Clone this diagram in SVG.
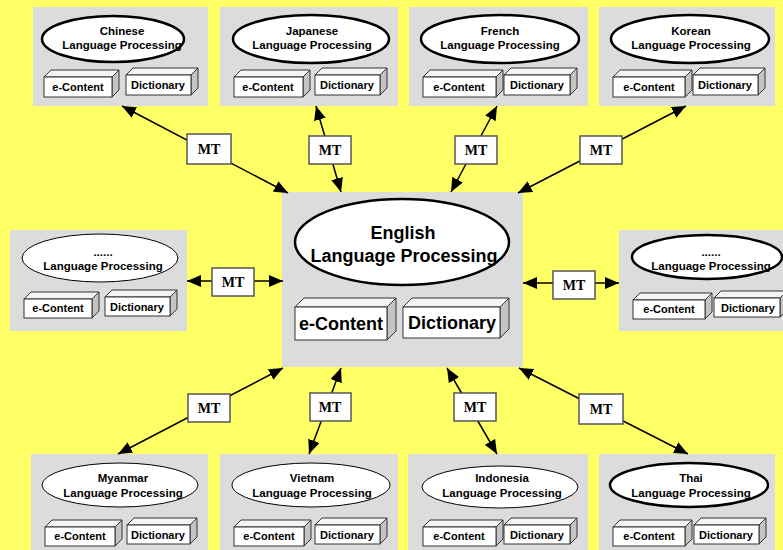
<svg xmlns="http://www.w3.org/2000/svg" width="783" height="550" viewBox="0 0 783 550">
<defs>
<style>
.bg{fill:#ffff66}
.panel{fill:#dcdcdc}
.ell{fill:#fff;stroke:#000;stroke-width:2.5}
.ellt{fill:#fff;stroke:#000;stroke-width:1}
.lbl{font-family:"Liberation Sans",Arial,sans-serif;font-weight:bold;font-size:11.5px;text-anchor:middle;fill:#000}
.bx{font-family:"Liberation Sans",Arial,sans-serif;font-weight:bold;font-size:11px;text-anchor:middle;fill:#000}
.big{font-family:"Liberation Sans",Arial,sans-serif;font-weight:bold;font-size:18px;text-anchor:middle;fill:#000}
.front{fill:#fff;stroke:#333;stroke-width:1}
.top{fill:#f4f4f4;stroke:#333;stroke-width:1;stroke-linejoin:round}
.side{fill:#c4c4c4;stroke:#333;stroke-width:1;stroke-linejoin:round}
.mtbox{fill:#fff;stroke:#555;stroke-width:1.5}
.mt{font-family:"Liberation Serif","Times New Roman",serif;font-weight:bold;font-size:14px;text-anchor:middle;fill:#000}
.conn{stroke:#000;stroke-width:1.5;fill:none;marker-start:url(#ah);marker-end:url(#ah)}
</style>
<marker id="ah" viewBox="0 0 14 12" refX="14" refY="6" markerWidth="14" markerHeight="12" markerUnits="userSpaceOnUse" orient="auto-start-reverse">
<path d="M0,0 L14,6 L0,12 z" fill="#000"/>
</marker>
</defs>
<rect class="bg" x="0" y="0" width="783" height="550"/>

<!-- Chinese -->
<g id="chinese">
<rect class="panel" x="33" y="7" width="175" height="99"/>
<ellipse class="ell" cx="113" cy="39" rx="71" ry="23"/>
<text class="lbl" x="122" y="35">Chinese</text>
<text class="lbl" x="122" y="49">Language Processing</text>
<polygon class="top" points="44,77 51,70 119,70 112,77"/><polygon class="side" points="112,77 119,70 119,90 112,97"/><rect class="front" x="44" y="77" width="68" height="20"/>
<text class="bx" x="78" y="91">e-Content</text>
<polygon class="top" points="126,75 133,68 198,68 191,75"/><polygon class="side" points="191,75 198,68 198,88 191,95"/><rect class="front" x="126" y="75" width="65" height="20"/>
<text class="bx" x="158" y="89">Dictionary</text>
</g>

<!-- Japanese -->
<g id="japanese">
<rect class="panel" x="220" y="7" width="178" height="99"/>
<ellipse class="ell" cx="311" cy="39" rx="78" ry="24"/>
<text class="lbl" x="312" y="35">Japanese</text>
<text class="lbl" x="312" y="49">Language Processing</text>
<polygon class="top" points="234,77 241,70 310,70 303,77"/><polygon class="side" points="303,77 310,70 310,90 303,97"/><rect class="front" x="234" y="77" width="69" height="20"/>
<text class="bx" x="268" y="91">e-Content</text>
<polygon class="top" points="315,75 322,68 387,68 380,75"/><polygon class="side" points="380,75 387,68 387,88 380,95"/><rect class="front" x="315" y="75" width="65" height="20"/>
<text class="bx" x="347" y="89">Dictionary</text>
</g>

<!-- French -->
<g id="french">
<rect class="panel" x="409" y="7" width="179" height="99"/>
<ellipse class="ell" cx="500" cy="39" rx="79" ry="24"/>
<text class="lbl" x="500" y="35">French</text>
<text class="lbl" x="500" y="49">Language Processing</text>
<polygon class="top" points="423,77 430,70 503,70 496,77"/><polygon class="side" points="496,77 503,70 503,90 496,97"/><rect class="front" x="423" y="77" width="73" height="20"/>
<text class="bx" x="459" y="91">e-Content</text>
<polygon class="top" points="504,75 511,68 577,68 570,75"/><polygon class="side" points="570,75 577,68 577,88 570,95"/><rect class="front" x="504" y="75" width="66" height="20"/>
<text class="bx" x="537" y="89">Dictionary</text>
</g>

<!-- Korean -->
<g id="korean">
<rect class="panel" x="599" y="7" width="176" height="99"/>
<ellipse class="ell" cx="690" cy="39" rx="79" ry="24"/>
<text class="lbl" x="691" y="35">Korean</text>
<text class="lbl" x="691" y="49">Language Processing</text>
<polygon class="top" points="613,77 620,70 692,70 685,77"/><polygon class="side" points="685,77 692,70 692,90 685,97"/><rect class="front" x="613" y="77" width="72" height="20"/>
<text class="bx" x="649" y="91">e-Content</text>
<polygon class="top" points="693,75 700,68 765,68 758,75"/><polygon class="side" points="758,75 765,68 765,88 758,95"/><rect class="front" x="693" y="75" width="65" height="20"/>
<text class="bx" x="725" y="89">Dictionary</text>
</g>

<!-- Left -->
<g id="left-lang">
<rect class="panel" x="10" y="230" width="177" height="101"/>
<ellipse class="ellt" cx="100" cy="258" rx="78" ry="24"/>
<text class="lbl" x="103" y="256">......</text>
<text class="lbl" x="103" y="270">Language Processing</text>
<polygon class="top" points="24,299 31,292 99,292 92,299"/><polygon class="side" points="92,299 99,292 99,311 92,318"/><rect class="front" x="24" y="299" width="68" height="19"/>
<text class="bx" x="58" y="312">e-Content</text>
<polygon class="top" points="105,297 112,290 177,290 170,297"/><polygon class="side" points="170,297 177,290 177,309 170,316"/><rect class="front" x="105" y="297" width="65" height="19"/>
<text class="bx" x="137" y="311">Dictionary</text>
</g>

<!-- Right -->
<g id="right-lang">
<rect class="panel" x="619" y="230" width="164" height="101"/>
<ellipse class="ell" cx="707" cy="257" rx="75" ry="22"/>
<text class="lbl" x="711" y="256">......</text>
<text class="lbl" x="711" y="270">Language Processing</text>
<polygon class="top" points="633,300 640,293 712,293 705,300"/><polygon class="side" points="705,300 712,293 712,312 705,319"/><rect class="front" x="633" y="300" width="72" height="19"/>
<text class="bx" x="669" y="313">e-Content</text>
<polygon class="top" points="714,298 721,291 787,291 780,298"/><polygon class="side" points="780,298 787,291 787,310 780,317"/><rect class="front" x="714" y="298" width="66" height="19"/>
<text class="bx" x="748" y="312">Dictionary</text>
</g>

<!-- Center -->
<g id="english">
<rect class="panel" x="282" y="192" width="241" height="175"/>
<ellipse class="ell" cx="402" cy="242" rx="107" ry="43"/>
<text class="big" x="403" y="239">English</text>
<text class="big" x="404" y="262">Language Processing</text>
<polygon class="top" points="295,307 304,298 396,298 387,307"/><polygon class="side" points="387,307 396,298 396,331 387,340"/><rect class="front" x="295" y="307" width="92" height="33"/>
<text class="big" x="341" y="330">e-Content</text>
<polygon class="top" points="403,307 412,298 509,298 500,307"/><polygon class="side" points="500,307 509,298 509,329 500,338"/><rect class="front" x="403" y="307" width="97" height="31"/>
<text class="big" x="452" y="329">Dictionary</text>
</g>

<!-- Myanmar -->
<g id="myanmar">
<rect class="panel" x="31" y="454" width="177" height="96"/>
<ellipse class="ellt" cx="120" cy="485" rx="78" ry="22"/>
<text class="lbl" x="123" y="482">Myanmar</text>
<text class="lbl" x="123" y="497">Language Processing</text>
<polygon class="top" points="45,527 52,520 122,520 115,527"/><polygon class="side" points="115,527 122,520 122,539 115,546"/><rect class="front" x="45" y="527" width="70" height="19"/>
<text class="bx" x="80" y="540">e-Content</text>
<polygon class="top" points="127,525 134,518 197,518 190,525"/><polygon class="side" points="190,525 197,518 197,537 190,544"/><rect class="front" x="127" y="525" width="63" height="19"/>
<text class="bx" x="158" y="539">Dictionary</text>
</g>

<!-- Vietnam -->
<g id="vietnam">
<rect class="panel" x="220" y="454" width="178" height="96"/>
<ellipse class="ellt" cx="311" cy="485" rx="79" ry="22"/>
<text class="lbl" x="312" y="482">Vietnam</text>
<text class="lbl" x="312" y="497">Language Processing</text>
<polygon class="top" points="234,527 241,520 311,520 304,527"/><polygon class="side" points="304,527 311,520 311,539 304,546"/><rect class="front" x="234" y="527" width="70" height="19"/>
<text class="bx" x="269" y="540">e-Content</text>
<polygon class="top" points="315,525 322,518 387,518 380,525"/><polygon class="side" points="380,525 387,518 387,537 380,544"/><rect class="front" x="315" y="525" width="65" height="19"/>
<text class="bx" x="347" y="539">Dictionary</text>
</g>

<!-- Indonesia -->
<g id="indonesia">
<rect class="panel" x="408" y="454" width="180" height="96"/>
<ellipse class="ellt" cx="500" cy="487" rx="78" ry="21"/>
<text class="lbl" x="502" y="482">Indonesia</text>
<text class="lbl" x="502" y="497">Language Processing</text>
<polygon class="top" points="423,527 430,520 503,520 496,527"/><polygon class="side" points="496,527 503,520 503,539 496,546"/><rect class="front" x="423" y="527" width="73" height="19"/>
<text class="bx" x="459" y="540">e-Content</text>
<polygon class="top" points="504,525 511,518 577,518 570,525"/><polygon class="side" points="570,525 577,518 577,537 570,544"/><rect class="front" x="504" y="525" width="66" height="19"/>
<text class="bx" x="537" y="539">Dictionary</text>
</g>

<!-- Thai -->
<g id="thai">
<rect class="panel" x="599" y="454" width="176" height="96"/>
<ellipse class="ell" cx="689" cy="485" rx="79" ry="22"/>
<text class="lbl" x="691" y="482">Thai</text>
<text class="lbl" x="691" y="497">Language Processing</text>
<polygon class="top" points="613,527 620,520 692,520 685,527"/><polygon class="side" points="685,527 692,520 692,539 685,546"/><rect class="front" x="613" y="527" width="72" height="19"/>
<text class="bx" x="649" y="540">e-Content</text>
<polygon class="top" points="694,525 701,518 766,518 759,525"/><polygon class="side" points="759,525 766,518 766,537 759,544"/><rect class="front" x="694" y="525" width="65" height="19"/>
<text class="bx" x="726" y="539">Dictionary</text>
</g>

<!-- Connectors -->
<g id="connectors">
<line class="conn" x1="122" y1="106" x2="288" y2="193"/>
<line class="conn" x1="316" y1="106" x2="341" y2="192"/>
<line class="conn" x1="497" y1="106" x2="451" y2="192"/>
<line class="conn" x1="686" y1="106" x2="518" y2="193"/>
<line class="conn" x1="187" y1="281" x2="283" y2="281"/>
<line class="conn" x1="523" y1="283" x2="619" y2="283"/>
<line class="conn" x1="283" y1="368" x2="118" y2="454"/>
<line class="conn" x1="341" y1="368" x2="309" y2="454"/>
<line class="conn" x1="447" y1="368" x2="497" y2="454"/>
<line class="conn" x1="519" y1="368" x2="688" y2="454"/>
<rect class="mtbox" x="187" y="134" width="44" height="30"/><text class="mt" x="209" y="154">MT</text>
<rect class="mtbox" x="309" y="136" width="42" height="28"/><text class="mt" x="330" y="155">MT</text>
<rect class="mtbox" x="455" y="136" width="42" height="28"/><text class="mt" x="476" y="155">MT</text>
<rect class="mtbox" x="580" y="136" width="42" height="28"/><text class="mt" x="601" y="155">MT</text>
<rect class="mtbox" x="212" y="268" width="42" height="28"/><text class="mt" x="233" y="287">MT</text>
<rect class="mtbox" x="553" y="271" width="42" height="28"/><text class="mt" x="574" y="290">MT</text>
<rect class="mtbox" x="188" y="394" width="42" height="28"/><text class="mt" x="209" y="413">MT</text>
<rect class="mtbox" x="310" y="393" width="41" height="28"/><text class="mt" x="330" y="412">MT</text>
<rect class="mtbox" x="454" y="393" width="42" height="28"/><text class="mt" x="475" y="412">MT</text>
<rect class="mtbox" x="579" y="394" width="44" height="30"/><text class="mt" x="601" y="414">MT</text>
</g>
</svg>
